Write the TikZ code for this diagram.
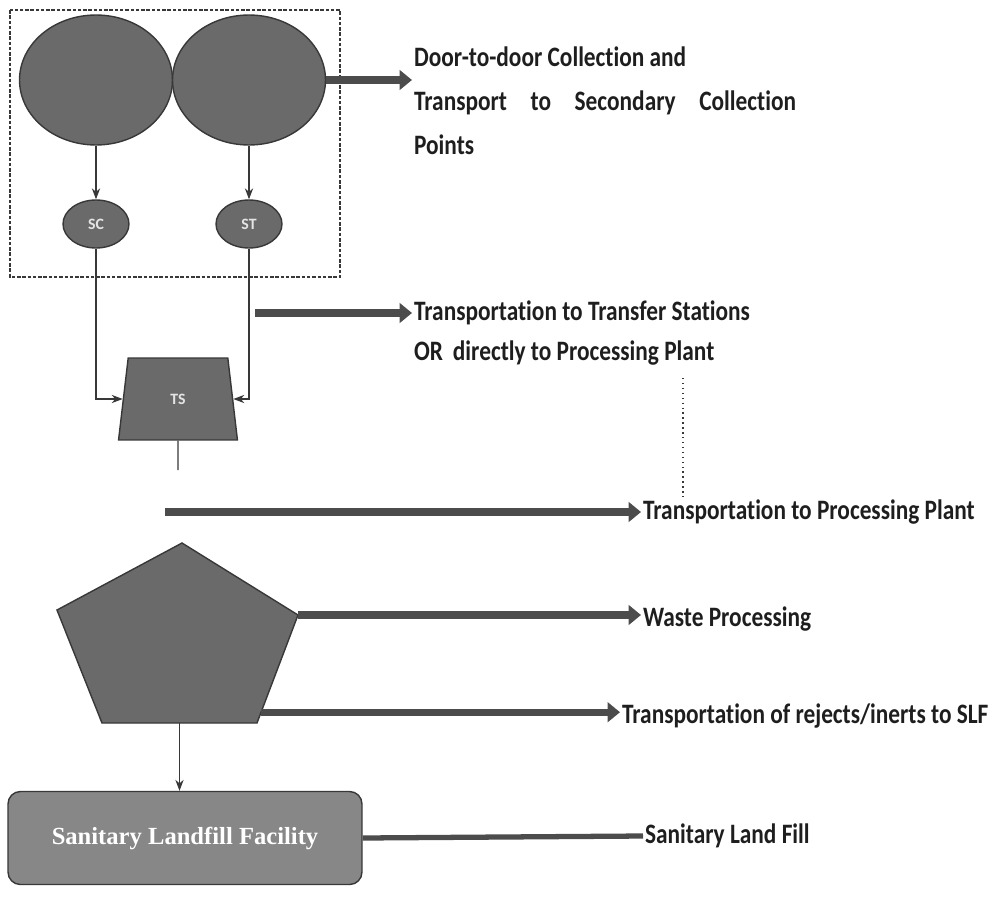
\documentclass[tikz,border=0pt]{standalone}
\usepackage{fontspec}
\setmainfont{Carlito}
\newfontfamily\notefont[FakeStretch=0.83,Ligatures=NoCommon]{Carlito}
\newfontfamily\slffont{Liberation Serif}
\usetikzlibrary{arrows.meta,positioning,shapes.geometric,calc}
\definecolor{blob}{HTML}{6A6A6A}
\definecolor{blobedge}{HTML}{383838}
\definecolor{bandgray}{HTML}{4C4C4C}
\definecolor{slfgray}{HTML}{878787}
\definecolor{ink}{HTML}{1E1E1E}
\tikzset{
  bigblob/.style={ellipse,draw=blobedge,thick,fill=blob,minimum width=3.06cm,minimum height=2.6cm,inner sep=0pt},
  smallblob/.style={ellipse,draw=blobedge,thick,fill=blob,minimum width=1.32cm,minimum height=0.96cm,inner sep=0pt,font=\small\bfseries,text=white!80!gray},
  station/.style={trapezium,trapezium stretches=true,trapezium angle=82,draw=blobedge,thick,fill=blob,minimum width=2.38cm,minimum height=1.64cm,inner sep=0pt,font=\small\bfseries,text=white!80!gray},
  procunit/.style={draw=blobedge,thick,fill=blob},
  slfbox/.style={rectangle,rounded corners=7pt,draw=blobedge,thick,fill=slfgray,minimum width=7.08cm,minimum height=1.86cm,font=\slffont\bfseries\fontsize{14}{17}\selectfont,text=white},
  band/.style={-{Triangle[length=7pt,width=11pt]},line width=4pt,bandgray},
  thinarrow/.style={-{Stealth[length=2.2mm]},semithick,blobedge},
  thinline/.style={semithick,blobedge},
  stage/.style={anchor=west,inner sep=1pt,font=\notefont\bfseries\fontsize{16}{25}\selectfont,text=ink,align=left}
}

\begin{document}
\begin{tikzpicture}[x=0.02cm,y=-0.02cm]
  \useasboundingbox (0,0) rectangle (997,896);
  % secondary collection
  \node[bigblob] (house1) at (96,80) {};
  \node[bigblob] (house2) at (249,80) {};
  \node[smallblob] (sc) at (96,224) {SC};
  \node[smallblob] (st) at (249,224) {ST};
  \draw[blobedge,thick,dash pattern=on 2pt off 1pt] (10,10) rectangle (340,277);
  \draw[thinarrow] (house1.south) -- (sc.north);
  \draw[thinarrow] (house2.south) -- (st.north);
  % transfer station
  \node[station] (ts) at (178,399) {TS};
  \draw[thinarrow] (sc.south) |- (ts.left side);
  \draw[thinarrow] (st.south) |- (ts.right side);
  \coordinate (tsend) at (178,470);
  \draw[thinline] (ts.south) -- (tsend);
  % processing unit
  \draw[procunit] (182,543) coordinate (putop) -- (298,615) coordinate (puright)
    -- (257,723) coordinate (pubr) -- (102,723) coordinate (publ)
    -- (57,610) coordinate (puleft) -- cycle;
  \coordinate (pubot) at ($(publ)!0.5!(pubr)$);
  \coordinate (purej) at ($(pubr)!0.1!(puright)$);
  % landfill
  \node[slfbox] (slf) at (185,838) {Sanitary Landfill Facility};
  \draw[thinarrow] (pubot) -- (pubot |- slf.north);
  % stage labels
  \node[stage,anchor=north west] (doortodoor) at (412,45) {Door-to-door Collection and\\
    \makebox[7.64cm][s]{Transport to Secondary Collection}\\Points};
  \node[stage] (tstext) at (412,313) {Transportation to Transfer Stations};
  \node[stage] (ortext) at (412,353) {OR\, directly to Processing Plant};
  \node[stage] (pptext) at (641,512) {Transportation to Processing Plant};
  \node[stage] (waste) at (641,619) {Waste Processing};
  \node[stage] (rejects) at (620,716) {Transportation of rejects/inerts to SLF};
  \node[stage] (landfill) at (643,836) {Sanitary Land Fill};
  \coordinate (hhstart) at (house2.east);
  \coordinate (ppstart) at (165,512);
  \coordinate (tsstart) at (255,313);
  \draw[band] (hhstart) -- (hhstart -| doortodoor.west);
  \draw[band] (tsstart) -- (tstext.west);
  \draw[band] (ppstart) -- (pptext.west);
  \draw[band] (puright) -- (puright -| waste.west);
  \draw[band] (purej) -- (purej -| rejects.west);
  \draw[line width=3pt,bandgray] (slf.east) -- (landfill.west);
  \draw[blobedge,thick,dotted] (683,378) -- (683,500);
\end{tikzpicture}
\end{document}
